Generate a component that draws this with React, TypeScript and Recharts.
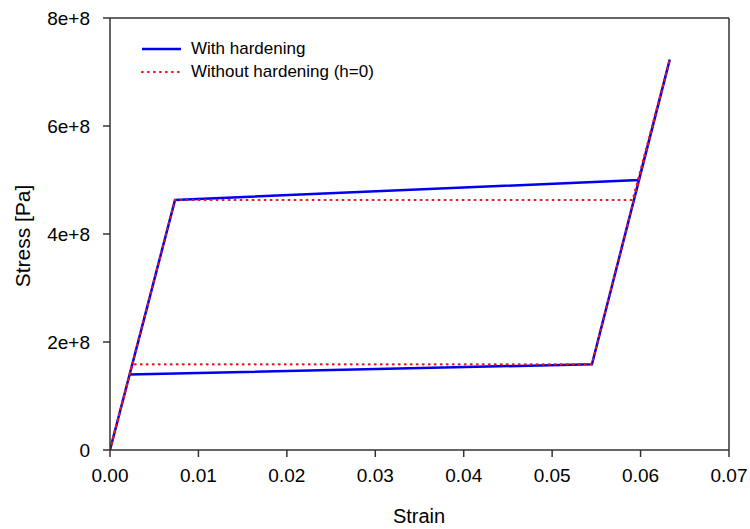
import { LineChart, Line, XAxis, YAxis, Legend, ReferenceLine, Label } from 'recharts';

// strain / stress points (loop order)
const strainHard = [0, 0.00735, 0.0598, 0.0633, 0.0545, 0.00222, 0];
const stressHard = [0, 4.63e8, 5.0e8, 7.23e8, 1.587e8, 1.4e8, 0];

const strainNoHard = [0, 0.00735, 0.0591, 0.0633, 0.0545, 0.00252, 0];
const stressNoHard = [0, 4.63e8, 4.63e8, 7.23e8, 1.587e8, 1.587e8, 0];

const xTicks = [0, 0.01, 0.02, 0.03, 0.04, 0.05, 0.06, 0.07];
const yTicks = [0, 2e8, 4e8, 6e8, 8e8];

const FONT = '"Liberation Sans", Arial, sans-serif';
const AXIS = '#333';

const withHardening = strainHard.map((s, i) => ({ strain: s, stress: stressHard[i] }));
const withoutHardening = strainNoHard.map((s, i) => ({ strain: s, stress: stressNoHard[i] }));

const fmtY = (v: number) => (v === 0 ? '0' : `${v / 1e8}e+8`);

const LegendBox = ({ payload }: any) => (
  <div style={{ fontFamily: FONT, fontSize: 17, color: '#000' }}>
    {(payload || []).map((p: any) => (
      <div key={p.value} style={{ display: 'flex', alignItems: 'center', height: 23 }}>
        <svg width={41} height={6} style={{ marginRight: 9 }}>
          <line
            x1={1}
            y1={3}
            x2={40}
            y2={3}
            stroke={p.color}
            strokeWidth={p.payload.strokeWidth}
            strokeDasharray={p.payload.strokeDasharray}
            strokeLinecap={p.payload.strokeLinecap}
          />
        </svg>
        <span>{p.value}</span>
      </div>
    ))}
  </div>
);

const App = () => {
  return (
    <div style={{ position: 'absolute', left: 0, top: 0 }}>
      <LineChart width={750} height={529} margin={{ top: 18, right: 21, left: 0, bottom: 0 }}>
        <XAxis
          type="number"
          dataKey="strain"
          domain={[0, 0.07]}
          ticks={xTicks}
          tickFormatter={(v: number) => v.toFixed(2)}
          height={79}
          tickSize={7}
          tickMargin={12}
          stroke={AXIS}
          strokeWidth={1.5}
          tick={{ fill: '#000', fontSize: 19, fontFamily: FONT }}
          allowDataOverflow
        >
          <Label
            content={() => (
              <text x={419} y={523} textAnchor="middle" fontSize={20} fontFamily={FONT} fill="#000">
                Strain
              </text>
            )}
          />
        </XAxis>
        <YAxis
          type="number"
          dataKey="stress"
          domain={[0, 8e8]}
          ticks={yTicks}
          tickFormatter={fmtY}
          width={110}
          tickSize={7}
          tickMargin={13}
          stroke={AXIS}
          strokeWidth={1.5}
          tick={{ fill: '#000', fontSize: 19, fontFamily: FONT }}
          allowDataOverflow
        >
          <Label
            content={() => (
              <text
                x={22}
                y={236}
                transform="rotate(-90 22 236)"
                textAnchor="middle"
                dominantBaseline="central"
                fontSize={21}
                fontFamily={FONT}
                fill="#000"
              >
                Stress [Pa]
              </text>
            )}
          />
        </YAxis>
        <ReferenceLine y={8e8} stroke={AXIS} strokeWidth={1.5} />
        <ReferenceLine x={0.07} stroke={AXIS} strokeWidth={1.5} />
        <Legend
          layout="horizontal"
          verticalAlign="middle"
          align="center"
          wrapperStyle={{ left: 141, top: 37, width: 'auto' }}
          content={<LegendBox />}
        />
        <Line
          data={withHardening}
          dataKey="stress"
          name="With hardening"
          type="linear"
          stroke="#0000ee"
          strokeWidth={2.5}
          dot={false}
          activeDot={false}
          isAnimationActive={false}
        />
        <Line
          data={withoutHardening}
          dataKey="stress"
          name="Without hardening (h=0)"
          type="linear"
          stroke="#e8161b"
          strokeWidth={2.2}
          strokeDasharray="0.8 5.2"
          strokeLinecap="round"
          dot={false}
          activeDot={false}
          isAnimationActive={false}
        />
      </LineChart>
    </div>
  );
};

export default App;
